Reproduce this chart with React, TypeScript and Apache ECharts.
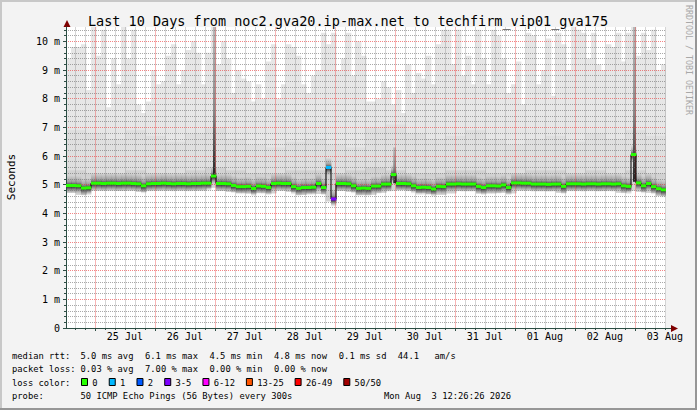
import React, { useEffect, useRef } from 'react';
import * as echarts from 'echarts';

const FONT = '"DejaVu Sans Mono", monospace';

const TITLE = 'Last 10 Days from noc2.gva20.ip-max.net to techfirm_vip01_gva175';
const Y_TITLE = 'Seconds';
const WATERMARK = 'RRDTOOL / TOBI OETIKER';

// window: Jul 24 12:26:26 -> Aug 3 12:26:26 ; x = hours since window start
const WINDOW_HOURS = 240;
const START_OFFSET = 12 + 26 / 60 + 26 / 3600; // hours after Jul 24 00:00
const BIN_HOURS = 2;
const X_LABELS = ['25 Jul', '26 Jul', '27 Jul', '28 Jul', '29 Jul', '30 Jul', '31 Jul', '01 Aug', '02 Aug', '03 Aug'];
const Y_TICKS = [0, 1, 2, 3, 4, 5, 6, 7, 8, 9, 10];
const Y_MAX = 10.5;

// median rtt (ms), 2-hour bins
const MEDIAN = [
  4.97, 4.97, 4.96, 4.88, 4.89, 5.05, 5.05, 5.04, 5.05, 5.05,
  5.04, 5.05, 5.05, 5.04, 5.03, 4.96, 5.03, 5.04, 5.04, 5.05,
  5.04, 5.03, 5.04, 5.04, 5.03, 5.04, 5.04, 5.05, 5.05, 5.3,
  5.04, 5.04, 5.03, 4.97, 4.93, 4.93, 4.94, 4.87, 4.95, 4.94,
  4.9, 5.04, 5.05, 5.04, 5.04, 4.93, 4.87, 4.9, 4.9, 4.91,
  5.04, 4.9, 5.6, 4.5, 5.04, 5.04, 5.03, 4.96, 4.87, 4.88,
  4.87, 4.95, 4.95, 5.02, 5.02, 5.35, 5.04, 5.04, 5.03, 4.96,
  4.9, 4.91, 4.9, 4.85, 4.94, 4.93, 5.02, 5.02, 5.03, 5.02,
  5.02, 5.02, 4.94, 4.9, 4.96, 4.96, 4.95, 4.99, 4.9, 5.06,
  5.06, 5.05, 5.05, 5.02, 5.02, 5.02, 5.01, 5.02, 5.02, 4.94,
  5.03, 5.03, 5.03, 5.02, 5.03, 5.03, 5.02, 5.03, 5.03, 5.02,
  5.03, 4.96, 4.94, 6.05, 5.06, 4.96, 5.04, 4.93, 4.86, 4.82,
];

// highest ping per 2-hour bin (ms)
const SMOKE_TOP = [
  9.4, 9.8, 9.8, 9.9, 8.3, 10.5, 9.5, 10.4, 7.7, 9.4,
  8.5, 10.5, 9.4, 10.4, 7.8, 7.5, 7.9, 9.0, 8.5, 8.6,
  9.5, 9.9, 8.5, 9.0, 9.7, 10.0, 9.6, 8.5, 9.6, 10.5,
  9.2, 10.0, 9.4, 8.2, 9.0, 8.7, 8.6, 7.9, 8.5, 8.0,
  9.3, 9.9, 8.0, 8.5, 9.9, 9.8, 9.5, 8.5, 8.2, 8.8,
  9.0, 10.3, 9.9, 10.3, 9.0, 9.4, 10.3, 8.8, 10.0, 9.5,
  7.9, 7.9, 8.0, 8.6, 8.4, 7.8, 8.3, 7.5, 9.2, 8.2,
  8.9, 8.7, 9.5, 8.5, 9.9, 10.4, 10.4, 9.2, 10.4, 8.8,
  9.5, 8.5, 10.4, 9.4, 8.5, 10.4, 10.2, 9.4, 8.2, 8.5,
  9.3, 7.8, 10.3, 10.2, 8.5, 9.0, 10.1, 8.1, 10.3, 9.9,
  9.0, 10.5, 10.4, 10.3, 9.4, 10.3, 9.2, 9.0, 9.9, 9.8,
  10.3, 9.3, 10.3, 10.5, 9.5, 10.3, 9.7, 10.4, 9.0, 9.2,
];

// lowest ping per 4-hour bin (ms)
const SMOKE_BOTTOM = [
  4.72, 4.65, 4.8, 4.8, 4.8, 4.78, 4.8, 4.75, 4.8, 4.8,
  4.8, 4.8, 4.8, 4.8, 4.9, 4.78, 4.75, 4.72, 4.7, 4.72,
  4.7, 4.8, 4.75, 4.65, 4.7, 4.68, 4.42, 4.78, 4.75, 4.65,
  4.65, 4.72, 4.8, 4.82, 4.78, 4.72, 4.68, 4.65, 4.7, 4.78,
  4.78, 4.7, 4.7, 4.72, 4.7, 4.8, 4.8, 4.78, 4.78, 4.72,
  4.8, 4.8, 4.8, 4.78, 4.8, 4.72, 4.8, 4.75, 4.72, 4.62,
];

// upper quartile per 8-hour bin (ms)
const SMOKE_HIGH = [
  5.5, 5.4, 5.4, 5.5, 5.4, 5.4, 5.5, 5.6, 5.5, 5.4,
  5.4, 5.5, 5.5, 5.4, 5.5, 5.6, 5.5, 5.4, 5.4, 5.5,
  5.5, 5.4, 5.4, 5.5, 5.5, 5.4, 5.5, 5.4, 5.5, 5.4,
];

// upper decile per 8-hour bin (ms)
const SMOKE_MID = [
  6.9, 6.8, 6.6, 6.9, 6.7, 6.5, 6.8, 7.0, 6.6, 6.4,
  6.3, 6.5, 6.6, 6.4, 6.3, 7.0, 7.1, 6.8, 6.6, 6.7,
  6.9, 6.6, 6.4, 6.6, 6.7, 6.5, 6.8, 6.6, 6.9, 6.7,
];

// dense bursts (hours since window start, ms)
const BURST_START = [58.8, 130.9, 226.8];
const BURST_END = [59.9, 132.0, 228.0];
const BURST_BASE = [5.25, 5.05, 5.1];
const BURST_TOP = [10.5, 6.3, 10.5];

// packet loss: bins with loss and their legend class
const LOSS_BINS = [52, 53];
const LOSS_CLASS = [1, 3];

const LOSS_LABELS = ['0', '1', '2', '3-5', '6-12', '13-25', '26-49', '50/50'];
const LOSS_COLORS = ['#26ff00', '#00b8ff', '#0059ff', '#7e00ff', '#ff00ff', '#ff5500', '#ff0000', '#a10000'];

const RTT_VALUES = [5.0, 6.1, 4.5, 4.8, 0.1];
const RTT_NAMES = ['avg', 'max', 'min', 'now', 'sd'];
const AM_PER_S = 44.1;
const LOSS_VALUES = [0.03, 7.0, 0.0, 0.0];
const LOSS_NAMES = ['avg', 'max', 'min', 'now'];
const PROBE = '50 ICMP Echo Pings (56 Bytes) every 300s';
const STAMP = 'Mon Aug  3 12:26:26 2026';

function buildOption(): any {
  const noonHours = X_LABELS.map((_, k) => 24 * (k + 1) + 12 - START_OFFSET);
  const midnightHours: number[] = [];
  const minorHours: number[] = [];
  for (let j = 0; j * 4 - START_OFFSET <= WINDOW_HOURS; j++) {
    const h = j * 4 - START_OFFSET;
    if (h <= 0) continue;
    if (j % 6 === 0) midnightHours.push(h);
    else minorHours.push(h);
  }
  const minorY: number[] = [];
  for (let i = 1; i * 0.2 < Y_MAX; i++) {
    if (i % 5 !== 0) minorY.push(Math.round(i * 2) / 10);
  }

  const lossByBin = MEDIAN.map(() => 0);
  LOSS_BINS.forEach((b, i) => (lossByBin[b] = LOSS_CLASS[i]));

  const smokeData = SMOKE_TOP.map((top, i) => [
    i * BIN_HOURS,
    (i + 1) * BIN_HOURS,
    SMOKE_BOTTOM[Math.floor(i / 2)],
    SMOKE_HIGH[Math.floor(i / 4)],
    SMOKE_MID[Math.floor(i / 4)],
    top,
  ]);
  const medianData = MEDIAN.map((m, i) => [i * BIN_HOURS, (i + 1) * BIN_HOURS, m, lossByBin[i]]);
  const stepData = MEDIAN.map((m, i) => [i * BIN_HOURS, m]);
  stepData.push([WINDOW_HOURS, MEDIAN[MEDIAN.length - 1]]);
  const burstData = BURST_START.map((s, i) => [s, BURST_END[i], BURST_BASE[i], BURST_TOP[i]]);
  const vGridData = [...minorHours.map((h) => [h, 0]), ...midnightHours.map((h) => [h, 1])];

  const axisColor = '#2c4d43';
  const MINOR_COLOR = 'rgba(110,110,110,0.6)';
  const MAJOR_COLOR = 'rgba(235,50,50,0.6)';
  const V_MINOR_COLOR = 'rgba(120,120,120,0.32)';
  const V_MAJOR_COLOR = 'rgba(235,60,60,0.38)';
  const minorGrid = { show: true, lineStyle: { color: MINOR_COLOR, width: 1, type: [1, 1] } };
  const majorGrid = { show: true, lineStyle: { color: MAJOR_COLOR, width: 1, type: [1, 1] } };
  const xBase = { type: 'value', min: 0, max: WINDOW_HOURS, gridIndex: 0, position: 'bottom', z: 3 };
  const yBase = { type: 'value', min: 0, max: Y_MAX, gridIndex: 0, position: 'left', z: 3 };

  const textStyle = (size: number, extra: any = {}) => ({ font: `${size}px ${FONT}`, fill: '#000', ...extra });

  const graphics: any[] = [];
  // frame
  graphics.push({ type: 'rect', shape: { x: 0, y: 0, width: 697, height: 2 }, style: { fill: '#c8c8c8' }, silent: true });
  graphics.push({ type: 'rect', shape: { x: 0, y: 0, width: 2, height: 410 }, style: { fill: '#c8c8c8' }, silent: true });
  graphics.push({ type: 'rect', shape: { x: 0, y: 408, width: 697, height: 2 }, style: { fill: '#969696' }, silent: true });
  graphics.push({ type: 'rect', shape: { x: 695, y: 0, width: 2, height: 410 }, style: { fill: '#969696' }, silent: true });
  // arrows
  graphics.push({ type: 'polygon', shape: { points: [[63.5, 27], [70.5, 27], [67, 20]] }, style: { fill: '#7f0000' } });
  graphics.push({ type: 'line', shape: { x1: 666, y1: 328.5, x2: 672, y2: 328.5 }, style: { stroke: axisColor, lineWidth: 1 } });
  graphics.push({ type: 'polygon', shape: { points: [[671, 325], [671, 332], [678, 328.5]] }, style: { fill: '#7f0000' } });
  // title, axis title, watermark
  graphics.push({ type: 'text', x: 348, y: 20.5, style: textStyle(13.5, { text: TITLE, textAlign: 'center', textVerticalAlign: 'middle' }) });
  graphics.push({ type: 'text', x: 11, y: 177, rotation: Math.PI / 2, style: textStyle(11, { text: Y_TITLE, textAlign: 'center', textVerticalAlign: 'middle' }) });
  graphics.push({ type: 'text', x: 689, y: 60, rotation: -Math.PI / 2, style: textStyle(8.3, { text: WATERMARK, textAlign: 'center', textVerticalAlign: 'middle', fill: '#a8a8a8' }) });

  // legend block
  const lineY = [355.5, 369, 382.5, 396];
  const col0 = 12;
  const cols = [80.5, 145, 209.5, 274, 338.8];
  const FS = 8.8;
  graphics.push({ type: 'text', x: col0, y: lineY[0], style: textStyle(FS, { text: 'median rtt:', textVerticalAlign: 'middle' }) });
  RTT_VALUES.forEach((v, i) => {
    graphics.push({ type: 'text', x: cols[i], y: lineY[0], style: textStyle(FS, { text: `${v.toFixed(1)} ms ${RTT_NAMES[i]}`, textVerticalAlign: 'middle' }) });
  });
  graphics.push({ type: 'text', x: 397.8, y: lineY[0], style: textStyle(FS, { text: AM_PER_S.toFixed(1), textVerticalAlign: 'middle' }) });
  graphics.push({ type: 'text', x: 434.5, y: lineY[0], style: textStyle(FS, { text: 'am/s', textVerticalAlign: 'middle' }) });

  graphics.push({ type: 'text', x: col0, y: lineY[1], style: textStyle(FS, { text: 'packet loss:', textVerticalAlign: 'middle' }) });
  LOSS_VALUES.forEach((v, i) => {
    graphics.push({ type: 'text', x: cols[i], y: lineY[1], style: textStyle(FS, { text: `${v.toFixed(2)} % ${LOSS_NAMES[i]}`, textVerticalAlign: 'middle' }) });
  });

  graphics.push({ type: 'text', x: col0, y: lineY[2], style: textStyle(FS, { text: 'loss color:', textVerticalAlign: 'middle' }) });
  let bx = 81;
  LOSS_LABELS.forEach((lab, i) => {
    graphics.push({ type: 'rect', shape: { x: bx + 0.5, y: 378.5, width: 6, height: 7 }, style: { fill: LOSS_COLORS[i], stroke: '#000', lineWidth: 1 } });
    const tx = bx + 11.3;
    graphics.push({ type: 'text', x: tx, y: lineY[2], style: textStyle(FS, { text: lab, textVerticalAlign: 'middle' }) });
    bx = tx + lab.length * 5.24 + 11.2;
  });

  graphics.push({ type: 'text', x: col0, y: lineY[3], style: textStyle(FS, { text: 'probe:', textVerticalAlign: 'middle' }) });
  graphics.push({ type: 'text', x: cols[0], y: lineY[3], style: textStyle(FS, { text: PROBE, textVerticalAlign: 'middle' }) });
  graphics.push({ type: 'text', x: 511, y: lineY[3], style: textStyle(FS, { text: STAMP, textAlign: 'right', textVerticalAlign: 'middle' }) });

  const coreGradient = new echarts.graphic.LinearGradient(0, 0, 0, 1, [
    { offset: 0, color: 'rgba(110,110,110,0)' },
    { offset: 0.35, color: 'rgba(80,80,80,0.4)' },
    { offset: 0.58, color: 'rgba(25,25,25,0.95)' },
    { offset: 0.7, color: 'rgba(60,60,60,0.75)' },
    { offset: 1, color: 'rgba(140,140,140,0)' },
  ]);
  const burstGradient = new echarts.graphic.LinearGradient(0, 0, 0, 1, [
    { offset: 0, color: '#b8b8b8' },
    { offset: 0.55, color: '#8a8a8a' },
    { offset: 0.85, color: '#444444' },
    { offset: 1, color: '#222222' },
  ]);

  return {
    animation: false,
    backgroundColor: '#f3f3f3',
    textStyle: { fontFamily: FONT },
    grid: { left: 66, top: 27, width: 600, height: 301, show: true, backgroundColor: '#ffffff', borderWidth: 0 },
    xAxis: [
      {
        ...xBase,
        z: 6,
        axisLine: { show: true, lineStyle: { color: axisColor, width: 1 } },
        axisTick: { show: false, customValues: noonHours },
        axisLabel: {
          customValues: noonHours,
          color: '#000',
          fontFamily: FONT,
          fontSize: 10,
          margin: 3.5,
          formatter: (v: number) => X_LABELS[Math.round((v + START_OFFSET - 36) / 24)] ?? '',
        },
        splitLine: { show: false },
      },
      {
        ...xBase,
        axisLine: { show: false },
        axisTick: { show: true, customValues: minorHours, length: 2, inside: false, lineStyle: { color: axisColor } },
        axisLabel: { show: false },
        splitLine: { show: false },
      },
      {
        ...xBase,
        axisLine: { show: false },
        axisTick: { show: true, customValues: midnightHours, length: 3, lineStyle: { color: axisColor } },
        axisLabel: { show: false },
        splitLine: { show: false },
      },
    ],
    yAxis: [
      {
        ...yBase,
        z: 6,
        axisLine: { show: true, lineStyle: { color: axisColor, width: 1 } },
        axisTick: { show: true, customValues: Y_TICKS, length: 3, lineStyle: { color: axisColor } },
        axisLabel: {
          customValues: Y_TICKS,
          color: '#000',
          fontFamily: FONT,
          fontSize: 10,
          margin: 6,
          formatter: (v: number) => (v === 0 ? '0' : `${v} m`),
        },
        splitLine: majorGrid,
      },
      {
        ...yBase,
        axisLine: { show: false },
        axisTick: { show: true, customValues: minorY, length: 2, lineStyle: { color: axisColor } },
        axisLabel: { show: false },
        splitLine: minorGrid,
      },
    ],
    graphic: graphics,
    series: [
      {
        type: 'custom',
        name: 'smoke',
        xAxisIndex: 0,
        yAxisIndex: 0,
        z: 1,
        clip: true,
        silent: true,
        data: smokeData,
        encode: { x: [0, 1], y: [2, 3, 4, 5] },
        renderItem: (_p: any, api: any) => {
          const h0 = api.value(0), h1 = api.value(1);
          const b = api.value(2), hi = api.value(3), mid = api.value(4), top = api.value(5);
          const x0 = api.coord([h0, b])[0];
          const x1 = api.coord([h1, b])[0];
          const yB = api.coord([h0, b])[1];
          const yT = api.coord([h0, top])[1];
          const yM = api.coord([h0, Math.min(mid, top)])[1];
          const yH = api.coord([h0, Math.min(hi, top)])[1];
          const w = x1 - x0 + 0.4;
          return {
            type: 'group',
            children: [
              { type: 'rect', shape: { x: x0, y: yT, width: w, height: yB - yT }, style: { fill: '#e6e6e6' } },
              { type: 'rect', shape: { x: x0, y: yM, width: w, height: yB - yM }, style: { fill: '#dfdfdf' } },
              { type: 'rect', shape: { x: x0, y: yH, width: w, height: yB - yH }, style: { fill: '#d2d2d2' } },
            ],
          };
        },
      },
      {
        type: 'custom',
        name: 'core',
        xAxisIndex: 0,
        yAxisIndex: 0,
        z: 2,
        clip: true,
        silent: true,
        data: medianData,
        encode: { x: [0, 1], y: 2 },
        renderItem: (_p: any, api: any) => {
          const h0 = api.value(0), h1 = api.value(1), m = api.value(2);
          const [x0, y] = api.coord([h0, m]);
          const x1 = api.coord([h1, m])[0];
          return { type: 'rect', shape: { x: x0, y: y - 10, width: x1 - x0 + 0.4, height: 18 }, style: { fill: coreGradient } };
        },
      },
      {
        type: 'custom',
        name: 'burst',
        xAxisIndex: 0,
        yAxisIndex: 0,
        z: 2,
        clip: true,
        silent: true,
        data: burstData,
        encode: { x: [0, 1], y: [2, 3] },
        renderItem: (_p: any, api: any) => {
          const [x0, yB] = api.coord([api.value(0), api.value(2)]);
          const [x1, yT] = api.coord([api.value(1), api.value(3)]);
          return { type: 'rect', shape: { x: x0, y: yT, width: x1 - x0, height: yB - yT }, style: { fill: burstGradient } };
        },
      },
      {
        type: 'custom',
        name: 'vgrid',
        xAxisIndex: 0,
        yAxisIndex: 0,
        z: 5,
        silent: true,
        data: vGridData,
        encode: { x: 0, y: 1 },
        renderItem: (_p: any, api: any) => {
          const h = api.value(0);
          const major = api.value(1) === 1;
          const x = api.coord([h, 0])[0];
          const y0 = api.coord([h, 0])[1];
          const y1 = api.coord([h, Y_MAX])[1];
          const xs = Math.round(x) + 0.5;
          return {
            type: 'line',
            shape: { x1: xs, y1: y0, x2: xs, y2: y1 },
            style: { stroke: major ? V_MAJOR_COLOR : V_MINOR_COLOR, lineWidth: 1 },
          };
        },
      },
      {
        type: 'line',
        name: 'median-step',
        xAxisIndex: 0,
        yAxisIndex: 0,
        z: 11,
        step: 'end',
        showSymbol: false,
        symbol: 'none',
        silent: true,
        data: stepData,
        lineStyle: { color: '#000', width: 1 },
      },
      {
        type: 'custom',
        name: 'median',
        xAxisIndex: 0,
        yAxisIndex: 0,
        z: 12,
        clip: true,
        silent: true,
        data: medianData,
        encode: { x: [0, 1], y: 2 },
        renderItem: (_p: any, api: any) => {
          const h0 = api.value(0), h1 = api.value(1), m = api.value(2), lvl = api.value(3);
          const [x0, y] = api.coord([h0, m]);
          const x1 = api.coord([h1, m])[0];
          return { type: 'rect', shape: { x: x0, y: y - 1.5, width: x1 - x0 + 0.3, height: 3 }, style: { fill: LOSS_COLORS[lvl] } };
        },
      },
    ],
  };
}

export default function App() {
  const ref = useRef<HTMLDivElement>(null);
  useEffect(() => {
    if (!ref.current) return;
    const chart = echarts.init(ref.current, null, { renderer: 'svg' });
    chart.setOption(buildOption());
    return () => chart.dispose();
  }, []);
  return (
    <div
      ref={ref}
      style={{ position: 'fixed', left: 0, top: 0, width: 697, height: 410, background: '#f3f3f3' }}
    />
  );
}
